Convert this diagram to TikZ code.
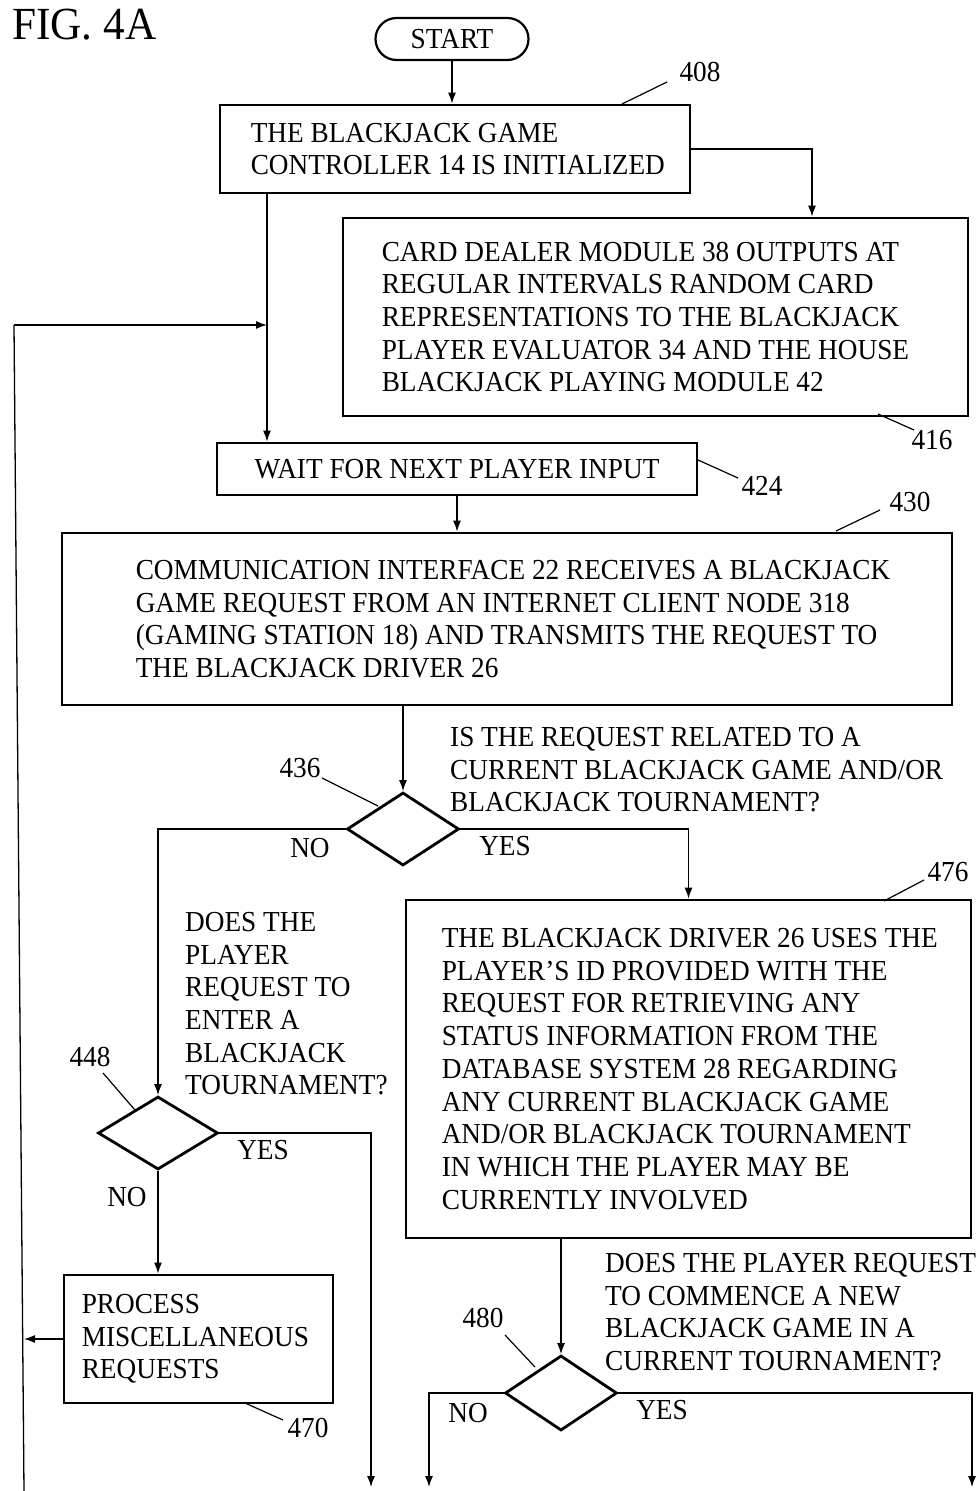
\documentclass[tikz,border=0pt]{standalone}
\usepackage{fontspec}
\setmainfont{Liberation Serif}[FakeStretch=0.94]
\usetikzlibrary{arrows.meta,shapes.geometric}
\begin{document}
\begin{tikzpicture}[x=1pt,y=-1pt,
  every node/.style={font=\fontsize{29}{32.7}\selectfont, inner sep=0pt},
  box/.style={draw, line width=2.8pt, inner sep=0pt},
  txt/.style={align=left, anchor=west},
  qtxt/.style={align=left, anchor=north west},
  dec/.style={draw, diamond, line width=2.8pt, inner sep=0pt},
  conn/.style={line width=1.3pt},
  arr/.style={conn, -{Latex[length=11pt,width=8pt]}},
  lead/.style={line width=1.2pt},
]
\useasboundingbox (0,0) rectangle (976,1491);

% title
\node[font=\fontsize{46}{52}\selectfont, anchor=west] (fig) at (12,25) {FIG. 4A};

% start
\node[draw, line width=2.2pt, rounded corners=21pt, minimum width=153pt, minimum height=42pt] (start) at (452,39) {START};

% 408
\node[box, minimum width=470pt, minimum height=88pt] (b408) at (455,149) {};
\node[txt] (t408) at ([xshift=32pt]b408.west) {THE BLACKJACK GAME\\CONTROLLER 14 IS INITIALIZED};
\node (n408) at (700,72) {408};
\draw[lead] (622,104) -- (667,82);
\draw[arr] (start.south) -- (start.south |- b408.north);

% 416
\node[box, minimum width=625pt, minimum height=198pt] (b416) at (655.5,317) {};
\node[txt] (t416) at ([xshift=40pt]b416.west) {CARD DEALER MODULE 38 OUTPUTS AT\\REGULAR INTERVALS RANDOM CARD\\REPRESENTATIONS TO THE BLACKJACK\\PLAYER EVALUATOR 34 AND THE HOUSE\\BLACKJACK PLAYING MODULE 42};
\node (n416) at (932,440) {416};
\draw[lead] (878,414) -- (914,430);
\coordinate (x812) at (812,0);
\draw[arr] (b408.east) -| (x812 |- b416.north);

% loop line
\coordinate (lt) at (14,325);
\coordinate (lb) at (24,1491);
\coordinate (j1) at (267,325);
\draw[conn] (lb) -- (lt);
\draw[arr] (lt) -- (j1);

% 424
\node[box, minimum width=480pt, minimum height=52pt] (b424) at (457,469) {WAIT FOR NEXT PLAYER INPUT};
\node (n424) at (762,486) {424};
\draw[lead] (698,460) -- (738,478);
\draw[arr] (b408.south -| j1) -- (j1 |- b424.north);

% 430
\node[box, minimum width=890pt, minimum height=172pt] (b430) at (507,619) {};
\node[txt] (t430) at ([xshift=75pt]b430.west) {COMMUNICATION INTERFACE 22 RECEIVES A BLACKJACK\\GAME REQUEST FROM AN INTERNET CLIENT NODE 318\\(GAMING STATION 18) AND TRANSMITS THE REQUEST TO\\THE BLACKJACK DRIVER 26};
\node (n430) at (910,502) {430};
\draw[lead] (836,531) -- (880,510);
\draw[arr] (b424.south) -- (b424.south |- b430.north);

% 436
\node[dec, minimum width=112pt, minimum height=73pt] (d436) at (403,829) {};
\draw[arr] (b430.south -| d436.north) -- (d436.north);
\node[qtxt] (q436) at (450,727) {IS THE REQUEST RELATED TO A\\CURRENT BLACKJACK GAME AND/OR\\BLACKJACK TOURNAMENT?};
\node (n436) at (300,768) {436};
\draw[lead] (322,778) -- (378,806);
\node (no436) at (310,848) {NO};
\node (yes436) at (505,846) {YES};

% 476
\node[box, minimum width=565pt, minimum height=338pt] (b476) at (688.5,1069) {};
\node[txt] (t476) at ([xshift=37pt]b476.west) {THE BLACKJACK DRIVER 26 USES THE\\PLAYER'S ID PROVIDED WITH THE\\REQUEST FOR RETRIEVING ANY\\STATUS INFORMATION FROM THE\\DATABASE SYSTEM 28 REGARDING\\ANY CURRENT BLACKJACK GAME\\AND/OR BLACKJACK TOURNAMENT\\IN WHICH THE PLAYER MAY BE\\CURRENTLY INVOLVED};
\node (n476) at (948,872) {476};
\draw[lead] (884,901) -- (924,880);
\draw[arr] (d436.east) -| (b476.north);

% 448
\node[qtxt] (q448) at (185,912) {DOES THE\\PLAYER\\REQUEST TO\\ENTER A\\BLACKJACK\\TOURNAMENT?};
\node[dec, minimum width=120pt, minimum height=73pt] (d448) at (158,1133) {};
\draw[arr] (d436.west) -| (d448.north);
\node (n448) at (90,1057) {448};
\draw[lead] (103,1073) -- (135,1110);
\node (yes448) at (263,1150) {YES};
\node (no448) at (127,1197) {NO};
\coordinate (o1) at (371,1487);
\draw[arr] (d448.east) -| (o1);

% 470
\node[box, minimum width=269pt, minimum height=128pt] (b470) at (198.5,1339) {};
\node[txt] (t470) at ([xshift=19pt]b470.west) {PROCESS\\MISCELLANEOUS\\REQUESTS};
\node (n470) at (308,1428) {470};
\draw[lead] (245,1403) -- (283,1420);
\draw[arr] (d448.south) -- (d448.south |- b470.north);
\draw[arr] (b470.west) -- (b470.west -| lb);

% 480
\node[dec, minimum width=112pt, minimum height=75pt] (d480) at (561,1393) {};
\draw[arr] (b476.south -| d480.north) -- (d480.north);
\node[qtxt] (q480) at (605,1253) {DOES THE PLAYER REQUEST\\TO COMMENCE A NEW\\BLACKJACK GAME IN A\\CURRENT TOURNAMENT?};
\node (n480) at (483,1318) {480};
\draw[lead] (505,1335) -- (535,1367);
\node (no480) at (468,1413) {NO};
\node (yes480) at (662,1410) {YES};
\coordinate (o2) at (429,1487);
\coordinate (o3) at (972,1487);
\draw[arr] (d480.west) -| (o2);
\draw[arr] (d480.east) -| (o3);
\end{tikzpicture}
\end{document}
